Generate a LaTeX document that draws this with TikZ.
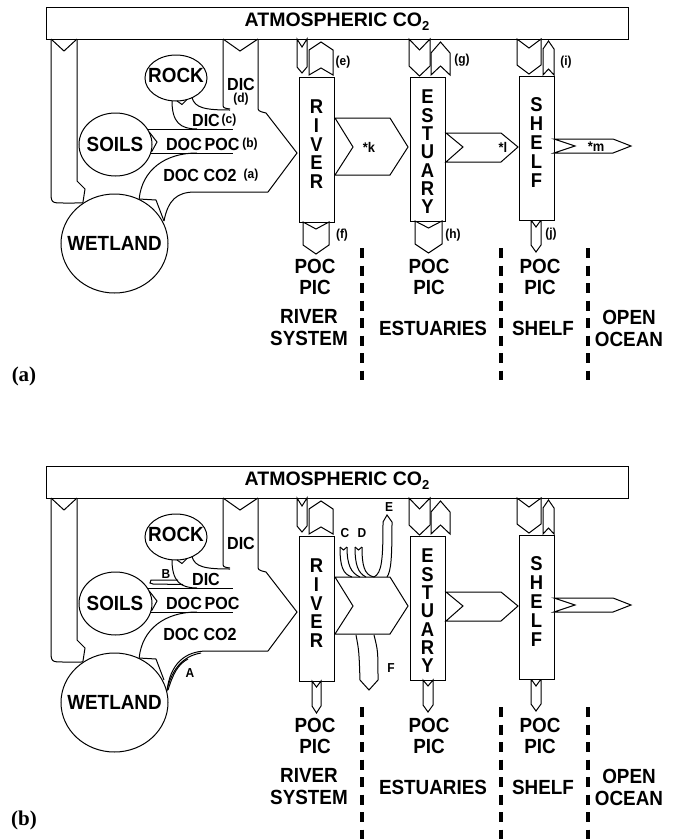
\documentclass[tikz,border=0pt]{standalone}
\usepackage{fontspec}
\setmainfont{Liberation Sans}
\newfontfamily\labfont[FakeStretch=0.92]{Liberation Sans}
\newfontfamily\capfont{Liberation Serif}
\usetikzlibrary{shapes.geometric}
\tikzset{
 ln/.style={line width=1pt, line join=miter},
 shp/.style={ln, draw, fill=white},
 big/.style={font=\labfont\bfseries\fontsize{20.5}{21}\selectfont, inner sep=0pt, align=center},
 mid/.style={font=\labfont\bfseries\fontsize{17.5}{17.5}\selectfont, inner sep=0pt},
 tag/.style={font=\labfont\bfseries\fontsize{13}{13}\selectfont, inner sep=0pt},
 ktag/.style={font=\labfont\bfseries\fontsize{14}{14}\selectfont, inner sep=0pt},
 ltr/.style={font=\labfont\bfseries\fontsize{20}{#1}\selectfont, inner sep=0pt, align=center},
 sep/.style={line width=3.2pt, dash pattern=on 10pt off 7.5pt},
 pan/.style={font=\capfont\bfseries\fontsize{21}{21}\selectfont, inner sep=0pt},
 oval/.style={ln, draw, ellipse, inner sep=0pt},
 boxr/.style={shp, minimum width=35pt, inner sep=0pt, anchor=north west},
}
\newcommand\dflux[6]{\draw[shp] (#1,#3) -- ({(#1+#2)/2},{#3+#5}) -- (#2,#3) -- (#2,{#4-#6}) -- ({(#1+#2)/2},#4) -- (#1,{#4-#6}) -- cycle;}
\newcommand\uflux[6]{\draw[shp] (#1,#4) -- ({(#1+#2)/2},{#4-#5}) -- (#2,#4) -- (#2,{#3+#6}) -- ({(#1+#2)/2},#3) -- (#1,{#3+#6}) -- cycle;}
\newcommand\panelbase[1]{%
 \node[shp, minimum width=582pt, minimum height=32pt, inner sep=0pt, anchor=north west] (atm#1) at (46,7) {};
 \node[font=\bfseries\fontsize{19.5}{19.5}\selectfont, inner sep=0pt] (atmt#1) at (337,22) {ATMOSPHERIC CO\raisebox{-4pt}{\fontsize{13}{13}\selectfont 2}};
 \node[oval, minimum width=107pt, minimum height=99pt] (wet#1) at (114.5,243.5) {};
 \node[oval, minimum width=62pt, minimum height=46pt] (rock#1) at (176,78) {};
 \node[oval, minimum width=73pt, minimum height=63pt] (soil#1) at (115.5,144.5) {};
 \node[big] (wett#1) at (wet#1) {WETLAND};
 \node[big] (rockt#1) at (176,75) {ROCK};
 \node[big] (soilt#1) at (115,144) {SOILS};
 % wetland <-> atmosphere
 \draw[ln] (51,39) -- (64,51) -- (77,39);
 \draw[ln] (51,39) -- (51,190) .. controls (51,203) .. (64,203) -- (wet#1.128);
 \draw[ln] (77,39) -- (77,181) -- (85,189) -- (wet#1.128);
 % DIC channel to atmosphere and big arrow to river
 \draw[ln] (223,39) -- (240,51) -- (258,39);
 \draw[ln] (223,39) -- (223,103) .. controls (223,108) .. (230,109);
 \draw[ln] (258,39) -- (258,106) .. controls (258,111) .. (266,113) -- (297,153) -- (268,192);
 % wetland channel
 \draw[ln] (wet#1.61) -- (156,200) -- (164,221);
 \draw[ln] (wet#1.61) .. controls (142,170) and (165,153) .. (197,153);
 % rock fluxes
 \draw[ln] (177,101) -- (182,104.5) -- (187,99.5);
 \draw[ln] (172,100.8) .. controls (172,122) and (180,129) .. (197,129);
 \draw[ln] (192,97.7) .. controls (195,108) and (205,110) .. (230,110);
 % soils fluxes
 \draw[ln] (147.5,129) -- (233,129);
 \draw[ln] (150.8,153) -- (233,153);
 \draw[ln] (149.2,132) -- (157,142) -- (151.5,152);
 % top fluxes
 \dflux{297}{307}{39}{73}{8}{6}
 \uflux{309}{333}{42}{75}{7}{8}
 \dflux{409}{430}{39}{76}{11}{10}
 \uflux{431}{450}{42}{75}{9}{11}
 \dflux{517}{541}{39}{74}{9}{9}
 \uflux{543}{554}{41}{75}{6}{8}
 \dflux{531}{541}{220}{252}{7}{7}
 % boxes
 \node[boxr, minimum height=145pt] (riv#1) at (299,77) {};
 \node[boxr, minimum height=144pt] (est#1) at (410,77) {};
 \node[boxr, minimum height=144pt] (shf#1) at (519,76) {};
 \node[ltr=18.7] (rivt#1) at (316.5,144.4) {R\\I\\V\\E\\R};
 \node[ltr=18.3] (estt#1) at (427.5,151.9) {E\\S\\T\\U\\A\\R\\Y};
 \node[ltr=19] (shft#1) at (536.5,143) {S\\H\\E\\L\\F};
 % horizontal fluxes
 \draw[shp] (335,118) -- (390,118) -- (408,147) -- (390,175) -- (335,175) -- (353,147) -- cycle;
 \draw[shp] (446,133) -- (501,133) -- (518,147) -- (501,162) -- (446,162) -- (463,147) -- cycle;
 \draw[shp] (554,139) -- (613,139) -- (631,146) -- (613,153) -- (554,153) -- (575,146) -- cycle;
 % zone labels
 \node[big] (p1#1) at (315,277) {POC\\PIC};
 \node[big] (p2#1) at (429,277) {POC\\PIC};
 \node[big] (p3#1) at (540,277) {POC\\PIC};
 \node[big, font=\labfont\bfseries\fontsize{20.5}{22}\selectfont] (z1#1) at (309,328) {RIVER\\SYSTEM};
 \node[big] (z2#1) at (433,328) {ESTUARIES};
 \node[big] (z3#1) at (543,328) {SHELF};
 \node[big, font=\labfont\bfseries\fontsize{20.5}{22}\selectfont] (z4#1) at (629,328) {OPEN\\OCEAN};
 \draw[sep] (362,248) -- (362,380);
 \draw[sep] (501,248) -- (501,380);
 \draw[sep] (588,248) -- (588,380);
 % flux labels
 \node[mid] (dicd#1) at (241,84) {DIC};
 \node[mid] (dicc#1) at (206,120) {DIC};
 \node[mid] (doc#1) at (184,144) {DOC};
 \node[mid] (poc#1) at (222,144) {POC};
 \node[mid] (docco#1) at (200,175) {DOC CO2};
}
\begin{document}
\begin{tikzpicture}[x=1pt,y=-1pt]
\useasboundingbox (0,0) rectangle (680,839);
% ---------------- panel (a)
\panelbase{a}
\dflux{303}{329}{222}{254}{7}{9}
\dflux{415}{442}{221}{253}{7}{9}
\draw[ln] (268,192) -- (195,192) .. controls (177,192) and (168,200) .. (164,221);
\node[tag] (ld) at (241,99) {(d)};
\node[tag] (lc) at (229,120) {(c)};
\node[tag] (lb) at (250,144) {(b)};
\node[tag] (la) at (251,175) {(a)};
\node[tag] (le) at (343,62) {(e)};
\node[tag] (lg) at (462,60) {(g)};
\node[tag] (li) at (566,62) {(i)};
\node[tag] (lf) at (342,235) {(f)};
\node[tag] (lh) at (453,235) {(h)};
\node[tag] (lj) at (551,234) {(j)};
\node[ktag] (lk) at (369,147) {*k};
\node[ktag] (ll) at (503,147) {*l};
\node[ktag] (lm) at (596,147) {*m};
\node[pan] (pa) at (24,376) {(a)};
% ---------------- panel (b)
\begin{scope}[yshift=-459pt]
\panelbase{b}
\dflux{312}{321}{222}{254}{6}{7}
\dflux{423}{433}{221}{253}{6}{7}
\draw[ln] (268,192) -- (207,192) .. controls (185,192) and (170,205) .. (167,232);
\draw[ln] (167,231) .. controls (172,210) and (183,197) .. (201,194);
\draw[ln] (168,231) .. controls (173,215) and (178,205) .. (188,200);
% B
\draw[ln] (178,121) -- (151,121) -- (150,124) -- (153,125) -- (183,125.5);
% C, D, E
\draw[ln] (340,88) -- (343.5,91) -- (347,88);
\draw[ln] (340,88) .. controls (340,108) and (343,115) .. (352,118);
\draw[ln] (347,88) .. controls (347,106) and (351,114) .. (360,118);
\draw[ln] (355,88) -- (358.5,91) -- (362,88);
\draw[ln] (355,88) .. controls (355,106) and (358,114) .. (366,118);
\draw[ln] (362,88) .. controls (362,106) and (364,116) .. (374,118);
\draw[ln] (383,63) -- (387,56) -- (392,63);
\draw[ln] (383,63) .. controls (383,100) and (382,114) .. (374,118);
\draw[ln] (392,63) .. controls (392,100) and (391,112) .. (387,118);
% F
\draw[ln] (356,176) .. controls (359,192) .. (360,221) -- (369,231) -- (378,221) .. controls (378,192) .. (374,176);
\node[tag] (lA) at (190,214) {A};
\node[tag] (lB) at (166,115) {B};
\node[tag] (lC) at (345,74) {C};
\node[tag] (lD) at (362,74) {D};
\node[tag] (lE) at (389,48) {E};
\node[tag] (lF) at (391,209) {F};
\end{scope}
\node[pan] (pb) at (24,820) {(b)};
\end{tikzpicture}
\end{document}
